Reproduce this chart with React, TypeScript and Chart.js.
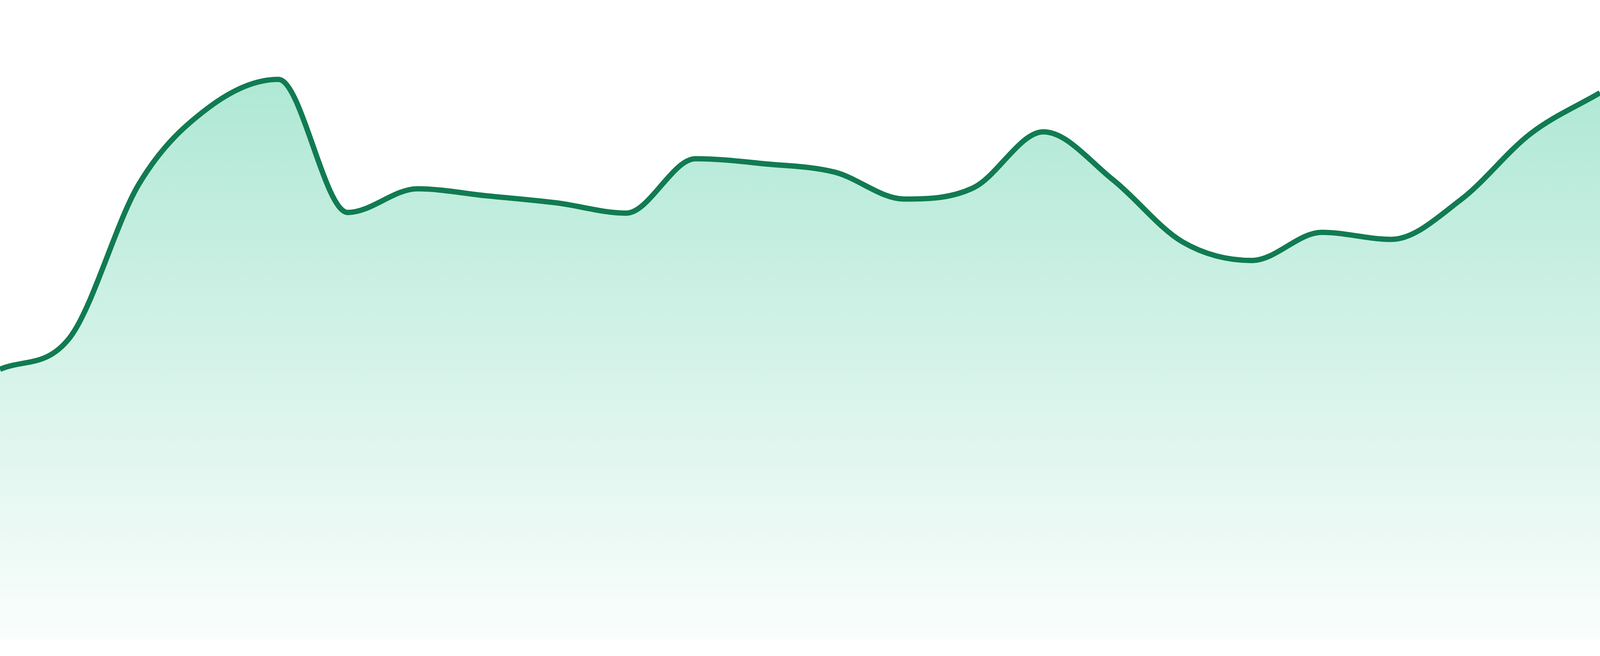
import React, { useEffect, useRef } from "react";
import { Chart, registerables } from "chart.js";

Chart.register(...registerables);

const labels: string[] = [
  "1", "2", "3", "4", "5", "6", "7", "8", "9", "10", "11", "12",
  "13", "14", "15", "16", "17", "18", "19", "20", "21", "22", "23", "24",
];

const values: number[] = [
  42.3, 47.2, 71.3, 83.2, 87.6, 66.8, 70.5, 69.4, 68.3, 66.7, 75.2, 74.4,
  73.1, 68.9, 70.7, 79.4, 71.9, 62.2, 59.3, 63.7, 62.6, 68.8, 79.1, 85.5,
];

const Y_MIN = 0;
const Y_MAX = 100;

const LINE_COLOR = "#117b52";

export default function App() {
  const ref = useRef<HTMLCanvasElement | null>(null);

  useEffect(() => {
    document.documentElement.style.margin = "0";
    document.documentElement.style.overflow = "hidden";
    document.body.style.margin = "0";
    document.body.style.overflow = "hidden";
    const canvas = ref.current;
    if (!canvas) return;
    const k = window.innerWidth / 4800;
    const chart = new Chart(canvas, {
      type: "line",
      data: {
        labels,
        datasets: [
          {
            data: values,
            borderColor: LINE_COLOR,
            borderWidth: 16 * k,
            pointRadius: 0,
            pointHoverRadius: 0,
            cubicInterpolationMode: "monotone",
            fill: "start",
            backgroundColor: (ctx: any) => {
              const area = ctx.chart.chartArea;
              if (!area) return "rgba(16,185,129,0.3)";
              const g = ctx.chart.ctx.createLinearGradient(0, area.top, 0, area.bottom);
              g.addColorStop(0, "rgba(16,185,129,0.38)");
              g.addColorStop(1, "rgba(16,185,129,0.02)");
              return g;
            },
          },
        ],
      },
      options: {
        animation: false,
        responsive: true,
        maintainAspectRatio: false,
        layout: { padding: { top: 0, left: 0, right: 0, bottom: 48 * k } },
        plugins: { legend: { display: false }, tooltip: { enabled: false } },
        scales: {
          x: { display: false, offset: false },
          y: { display: false, min: Y_MIN, max: Y_MAX },
        },
      },
    });
    return () => chart.destroy();
  }, []);

  return (
    <div style={{ position: "fixed", left: 0, top: 0, width: "100vw", height: "100vh" }}>
      <canvas ref={ref} style={{ display: "block" }} />
    </div>
  );
}
